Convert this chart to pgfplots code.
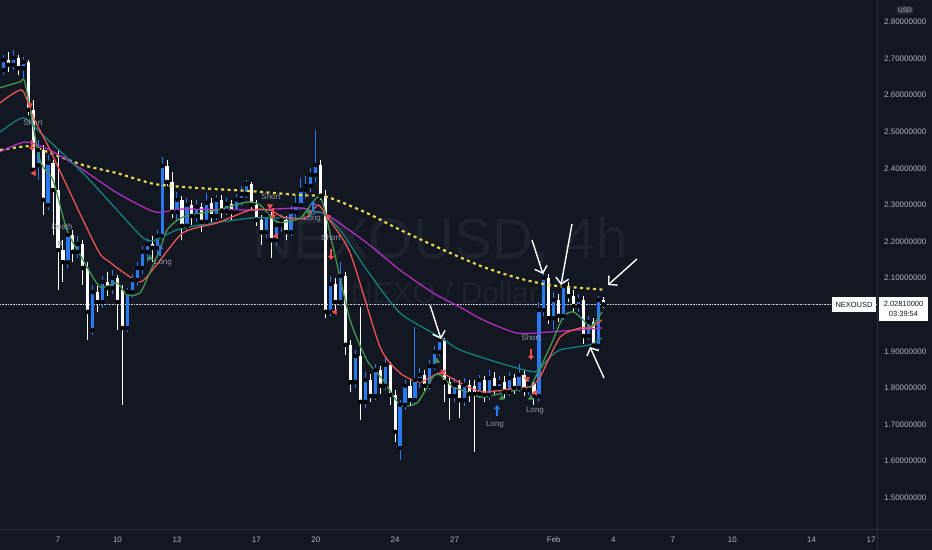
\documentclass[border=0pt]{standalone}
\usepackage{pgfplots}
\pgfplotsset{compat=1.18}
\usepackage{pgfplotstable}
\usepackage{fontspec}
\setmainfont{Liberation Sans}
\usetikzlibrary{arrows.meta}
\definecolor{bg}{RGB}{19,23,34}
\definecolor{sep}{RGB}{42,46,57}
\definecolor{txt}{RGB}{178,181,190}
\definecolor{lbl}{RGB}{150,153,162}
\definecolor{wm}{RGB}{31,35,47}
\definecolor{blu}{RGB}{41,121,240}
\definecolor{maG}{RGB}{67,150,80}
\definecolor{maR}{RGB}{236,84,82}
\definecolor{maT}{RGB}{20,128,126}
\definecolor{maP}{RGB}{176,47,192}
\definecolor{maY}{RGB}{230,214,80}
\definecolor{triG}{RGB}{66,140,90}
\definecolor{triR}{RGB}{242,80,80}

\pgfplotstableread{
x o h l c
4.25 2.669 2.710 2.655 2.696
4.75 2.683 2.724 2.669 2.702
5.25 2.674 2.704 2.647 2.691
6.00 2.409 2.478 2.368 2.450
6.50 2.300 2.437 2.286 2.415
7.50 2.144 2.237 2.128 2.218
8.00 2.172 2.215 2.155 2.193
8.75 1.958 2.081 1.945 2.062
9.25 2.035 2.106 2.019 2.090
9.75 2.073 2.122 2.057 2.101
10.50 1.964 2.073 1.953 2.062
10.75 2.062 2.112 2.046 2.095
11.00 2.095 2.144 2.079 2.128
11.25 2.128 2.188 2.112 2.172
11.50 2.172 2.210 2.144 2.193
12.00 2.183 2.232 2.166 2.215
12.25 2.215 2.431 2.199 2.407
13.00 2.281 2.336 2.254 2.314
13.50 2.243 2.319 2.226 2.300
14.00 2.270 2.314 2.254 2.295
14.50 2.254 2.333 2.243 2.306
15.00 2.270 2.327 2.259 2.314
15.50 2.284 2.319 2.273 2.303
16.00 2.281 2.330 2.270 2.314
16.25 2.314 2.352 2.297 2.330
16.50 2.330 2.368 2.319 2.357
17.50 2.226 2.286 2.210 2.273
18.00 2.204 2.259 2.188 2.245
18.25 2.245 2.275 2.226 2.259
18.75 2.226 2.297 2.215 2.281
19.00 2.281 2.325 2.264 2.300
19.25 2.300 2.374 2.286 2.341
19.50 2.341 2.379 2.319 2.352
19.75 2.352 2.401 2.336 2.382
20.00 2.382 2.505 2.363 2.409
20.75 2.008 2.106 1.997 2.084
21.25 2.035 2.144 2.024 2.106
22.00 1.816 1.904 1.800 1.887
22.50 1.762 1.844 1.745 1.822
23.00 1.778 1.866 1.767 1.849
23.50 1.806 1.882 1.795 1.863
24.25 1.636 1.767 1.603 1.754
24.50 1.754 1.822 1.740 1.806
25.00 1.767 1.967 1.756 1.822
25.25 1.822 1.855 1.800 1.836
25.75 1.806 1.877 1.795 1.860
26.00 1.860 1.915 1.849 1.898
26.25 1.898 1.945 1.887 1.931
27.00 1.778 1.827 1.762 1.808
27.50 1.767 1.827 1.751 1.808
28.25 1.784 1.836 1.773 1.822
28.75 1.781 1.849 1.767 1.827
29.25 1.800 1.833 1.789 1.816
29.75 1.789 1.844 1.778 1.827
30.25 1.800 1.866 1.789 1.836
30.75 1.795 1.827 1.781 1.811
31.25 1.778 2.035 1.762 2.013
31.50 2.013 2.117 1.997 2.101
32.00 1.991 2.062 1.958 2.040
32.50 1.997 2.095 1.986 2.079
33.25 2.024 2.057 2.008 2.040
33.75 1.942 1.997 1.931 1.980
34.25 1.915 2.051 1.904 2.040
}\upc

\pgfplotstableread{
x o h l c
4.50 2.696 2.718 2.663 2.683
5.00 2.702 2.710 2.655 2.674
5.50 2.691 2.696 2.546 2.560
5.75 2.560 2.587 2.382 2.396
6.25 2.450 2.464 2.273 2.314
6.75 2.415 2.423 2.218 2.341
7.00 2.341 2.450 2.068 2.177
7.25 2.177 2.204 2.090 2.144
7.75 2.218 2.232 2.144 2.172
8.25 2.193 2.204 2.081 2.128
8.50 2.128 2.144 1.931 2.008
9.00 2.062 2.079 2.008 2.035
9.50 2.090 2.117 2.051 2.073
10.00 2.101 2.109 1.958 2.035
10.25 2.068 2.081 1.754 1.964
11.75 2.193 2.215 2.144 2.183
12.50 2.407 2.423 2.352 2.363
12.75 2.363 2.390 2.264 2.281
13.25 2.314 2.325 2.204 2.243
13.75 2.300 2.314 2.245 2.270
14.25 2.295 2.306 2.226 2.254
14.75 2.306 2.319 2.254 2.270
15.25 2.314 2.327 2.264 2.284
15.75 2.303 2.314 2.259 2.281
16.75 2.357 2.363 2.286 2.300
17.00 2.300 2.314 2.243 2.259
17.25 2.259 2.273 2.191 2.226
17.75 2.273 2.281 2.155 2.204
18.50 2.259 2.270 2.204 2.226
20.25 2.409 2.423 2.314 2.325
20.50 2.325 2.341 1.991 2.008
21.00 2.084 2.101 2.008 2.035
21.50 2.106 2.117 1.890 1.918
21.75 1.918 1.931 1.789 1.816
22.25 1.887 2.021 1.713 1.762
22.75 1.822 1.838 1.762 1.778
23.25 1.849 1.860 1.784 1.806
23.75 1.863 1.871 1.754 1.781
24.00 1.781 1.795 1.653 1.680
24.75 1.806 1.822 1.751 1.767
25.50 1.836 1.849 1.789 1.806
26.50 1.931 1.937 1.762 1.816
26.75 1.816 1.827 1.713 1.778
27.25 1.808 1.822 1.718 1.767
27.75 1.808 1.822 1.762 1.784
28.00 1.806 1.822 1.625 1.784
28.50 1.822 1.833 1.762 1.781
29.00 1.827 1.844 1.784 1.800
29.50 1.816 1.833 1.773 1.789
30.00 1.827 1.838 1.784 1.800
30.50 1.836 1.849 1.778 1.795
31.00 1.811 1.822 1.754 1.778
31.75 2.101 2.112 1.975 1.991
32.25 2.040 2.057 1.980 1.997
32.75 2.079 2.090 2.035 2.051
33.00 2.051 2.068 2.008 2.024
33.50 2.040 2.051 1.920 1.942
34.00 1.980 1.991 1.904 1.915
34.50 2.040 2.049 2.019 2.0281
}\dnc

\begin{document}
\begin{tikzpicture}[x=1bp,y=1bp]
\path[use as bounding box, fill=bg] (0,0) rectangle (932,550);
\node[text=wm, font=\fontsize{57}{60}\selectfont] at (440,308) {NEXOUSD, 4h};
\node[text=wm, font=\fontsize{30}{32}\selectfont] at (445,257) {NEXO / Dollar};
\begin{axis}[
  at={(0bp,20bp)}, anchor=south west, scale only axis,
  width=877bp, height=530bp,
  xmin=4.075, xmax=48.30, ymin=1.4120, ymax=2.8601,
  axis line style={draw=none}, tick style={draw=none},
  major tick length=0pt,
  xtick={4,7,10,13,17,20,24,27,32,35,38,41,45,48},
  xticklabels={4,7,10,13,17,20,24,27,Feb,4,7,10,14,17},
  xticklabel style={font=\fontsize{8}{9}\selectfont, text=txt, anchor=base, yshift=-13bp},
  ytick={1.5,1.6,1.7,1.8,1.9,2.1,2.2,2.3,2.4,2.5,2.6,2.7,2.8},
  yticklabels={1.50000000,1.60000000,1.70000000,1.80000000,1.90000000,2.10000000,2.20000000,2.30000000,2.40000000,2.50000000,2.60000000,2.70000000,2.80000000},
  yticklabel pos=right,
  yticklabel style={font=\fontsize{8}{9}\selectfont, text=txt, anchor=west, inner sep=0pt, xshift=7bp},
  clip=true,
]
% current price line
\addplot[densely dotted, color=txt!70, line width=0.6bp, forget plot] coordinates {(4.075,2.0281) (48.3,2.0281)};

% candles: wicks
\addplot[only marks, mark=none, forget plot, error bars/.cd, y dir=both, y explicit, error mark=none,
  error bar style={line width=1bp, draw=blu}]
  table[x=x, y=c, y error plus expr=\thisrow{h}-\thisrow{c}, y error minus expr=\thisrow{c}-\thisrow{l}] {\upc};
\addplot[only marks, mark=none, forget plot, error bars/.cd, y dir=plus, y explicit, error mark=none,
  error bar style={line width=3.2bp, draw=blu}]
  table[x=x, y=o, y error plus expr=\thisrow{c}-\thisrow{o}] {\upc};
\addplot[only marks, mark=none, forget plot, error bars/.cd, y dir=both, y explicit, error mark=none,
  error bar style={line width=1bp, draw=white}]
  table[x=x, y=c, y error plus expr=\thisrow{h}-\thisrow{c}, y error minus expr=\thisrow{c}-\thisrow{l}] {\dnc};
\addplot[only marks, mark=none, forget plot, error bars/.cd, y dir=plus, y explicit, error mark=none,
  error bar style={line width=3.2bp, draw=white}]
  table[x=x, y=c, y error plus expr=\thisrow{o}-\thisrow{c}] {\dnc};

% moving averages
\addplot[maY, line width=2.2bp, dash pattern=on 3bp off 3.5bp, smooth, tension=0.4] coordinates {
(4.075,2.450) (5.59,2.461) (6.60,2.442) (8.26,2.409) (9.98,2.387) (11.89,2.357) (14.16,2.346) (16.68,2.338) (19.20,2.327) (20.57,2.322) (22.58,2.278) (24.25,2.232) (26.77,2.169) (28.43,2.131) (30.15,2.101) (31.81,2.081) (34.18,2.070) (34.5,2.069)};
\addplot[maP, line width=1.3bp, smooth, tension=0.4] coordinates {
(4.075,2.445) (5.34,2.472) (6.60,2.450) (8.26,2.396) (9.98,2.333) (11.89,2.281) (13.30,2.289) (16.68,2.286) (19.20,2.292) (19.71,2.284) (20.57,2.273) (22.58,2.196) (24.25,2.122) (25.91,2.060) (27.27,2.021) (28.43,1.986) (30.15,1.950) (31.81,1.953) (34.43,1.964)};
\addplot[maT, line width=1.3bp, smooth, tension=0.4] coordinates {
(4.075,2.499) (5.24,2.538) (6.24,2.491) (8.26,2.387) (9.98,2.286) (11.29,2.210) (11.89,2.204) (13.30,2.237) (16.68,2.264) (18.35,2.264) (19.46,2.264) (20.21,2.281) (21.22,2.232) (22.58,2.122) (24.25,2.005) (26.27,1.939) (27.27,1.904) (29.29,1.868) (31.06,1.844) (31.66,1.876) (32.32,1.904) (33.83,1.918) (34.43,1.937)};
\addplot[maR, line width=1.3bp, smooth, tension=0.4] coordinates {
(4.075,2.579) (5.18,2.614) (5.74,2.541) (6.60,2.450) (8.26,2.259) (9.12,2.166) (9.62,2.144) (9.98,2.128) (11.14,2.090) (11.89,2.131) (13.30,2.224) (15.02,2.251) (16.68,2.286) (17.69,2.286) (18.35,2.267) (19.46,2.264) (20.11,2.300) (20.57,2.267) (21.73,2.169) (23.24,1.912) (24.25,1.841) (25.26,1.816) (26.27,1.841) (27.27,1.814) (28.43,1.789) (30.15,1.800) (30.80,1.803) (31.31,1.830) (32.32,1.939) (33.33,1.964) (33.83,1.964) (34.43,1.986)};
\addplot[maG, line width=1.3bp, smooth, tension=0.4] coordinates {
(4.075,2.620) (5.08,2.636) (5.34,2.633) (6.09,2.423) (6.75,2.368) (7.45,2.232) (8.26,2.150) (9.12,2.076) (9.98,2.087) (10.48,2.054) (11.14,2.060) (11.64,2.117) (12.14,2.177) (12.50,2.232) (13.30,2.267) (15.02,2.286) (16.53,2.308) (17.19,2.300) (18.04,2.254) (19.20,2.264) (20.21,2.322) (20.87,2.185) (21.73,1.986) (22.58,1.876) (23.39,1.822) (24.25,1.754) (25.11,1.759) (25.91,1.830) (26.27,1.836) (26.92,1.803) (27.78,1.786) (28.43,1.775) (30.15,1.795) (30.80,1.803) (31.81,1.912) (32.47,1.994) (32.97,2.008) (33.48,1.986) (33.83,1.967) (34.18,1.986) (34.43,2.008)};

% signal markers
\addplot[only marks, mark=triangle*, mark size=3bp, color=triR, mark options={rotate=180}] coordinates {(5.59,2.573) (17.69,2.297) (20.62,2.267) (26.42,1.844) (30.65,1.825)};
\addplot[only marks, mark=triangle*, mark size=3bp, color=triR, mark options={rotate=90}] coordinates {(5.79,2.387) (17.99,2.215) (20.97,2.008) (31.06,1.787)};
\addplot[only marks, mark=triangle*, mark size=3bp, color=triG] coordinates {(11.64,2.155) (19.66,2.281) (26.11,1.874) (29.39,1.773) (30.85,1.773)};
\addplot[only marks, mark=x, mark size=3bp, color=lbl, line width=0.8bp] coordinates {(7.10,2.196)};
\addplot[quiver={u=0,v=-0.030}, -{Triangle[width=6bp,length=4bp]}, line width=1.6bp, color=triR] coordinates {(5.69,2.478) (17.84,2.292) (20.77,2.180) (30.85,1.907)};
\addplot[quiver={u=0,v=0.030}, -{Triangle[width=6bp,length=4bp]}, line width=1.6bp, color=blu] coordinates {(12.14,2.161) (29.14,1.7235) (19.86,2.281)};
\end{axis}

% annotation texts
\begin{scope}[every node/.style={text=lbl, font=\fontsize{8}{9}\selectfont}]
\node at (33,427) {Short};
\node at (62,323) {Death};
\node at (163,287) {Long};
\node at (271,353) {Short};
\node at (312,331) {Long};
\node at (331,312) {Short};
\node at (531,212) {Short};
\node at (535,139) {Long};
\node at (495,125) {Long};
\end{scope}

% hand-drawn arrows
\begin{scope}[white, line width=1.4bp, -{Straight Barb[length=6bp,width=13bp]}]
\draw (430,245) -- (441,211);
\draw (532,310) -- (543,276);
\draw (572,326) -- (561,265);
\draw (637,291) -- (608,265);
\draw (604,172) -- (590,203);
\end{scope}

% panel separators
\draw[sep, line width=1bp] (877,0) -- (877,550);
\draw[sep, line width=1bp] (0,20) -- (932,20);

% price labels
\node[fill=white, text=bg, font=\fontsize{7.5}{8}\selectfont, inner sep=0pt, minimum width=44bp, minimum height=15bp] at (854,245) {NEXOUSD};
\node[fill=white, text=bg, font=\fontsize{7.5}{9.5}\selectfont, align=center, inner sep=0pt, minimum width=49bp, minimum height=24bp] at (903.5,241) {2.02810000\\03:39:54};
\node[fill=sep, rounded corners=2bp, text=txt, font=\fontsize{6.5}{7}\selectfont, inner sep=1.5bp] at (905,540) {USD};
\end{tikzpicture}
\end{document}
